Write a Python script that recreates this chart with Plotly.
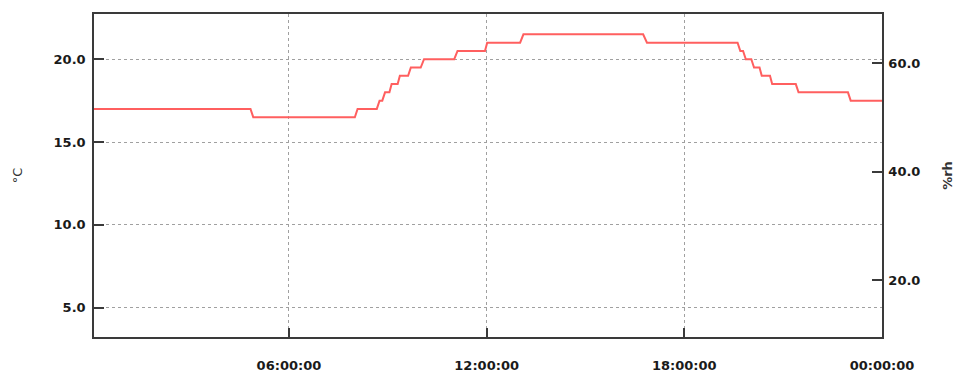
import plotly.graph_objects as go

# Temperature readings (step series) - time of day and value in °C
times = [
    "2023-01-01 00:05", "2023-01-01 04:50", "2023-01-01 04:55", "2023-01-01 08:00",
    "2023-01-01 08:05", "2023-01-01 08:40", "2023-01-01 08:45", "2023-01-01 08:50",
    "2023-01-01 08:55", "2023-01-01 09:03", "2023-01-01 09:07", "2023-01-01 09:18",
    "2023-01-01 09:22", "2023-01-01 09:37", "2023-01-01 09:42", "2023-01-01 10:00",
    "2023-01-01 10:06", "2023-01-01 11:01", "2023-01-01 11:07", "2023-01-01 11:57",
    "2023-01-01 12:01", "2023-01-01 13:01", "2023-01-01 13:07", "2023-01-01 16:45",
    "2023-01-01 16:52", "2023-01-01 19:37", "2023-01-01 19:42", "2023-01-01 19:47",
    "2023-01-01 19:52", "2023-01-01 20:02", "2023-01-01 20:07", "2023-01-01 20:17",
    "2023-01-01 20:21", "2023-01-01 20:36", "2023-01-01 20:40", "2023-01-01 21:23",
    "2023-01-01 21:28", "2023-01-01 22:58", "2023-01-01 23:03", "2023-01-02 00:00",
]
temps = [
    17.0, 17.0, 16.5, 16.5,
    17.0, 17.0, 17.5, 17.5,
    18.0, 18.0, 18.5, 18.5,
    19.0, 19.0, 19.5, 19.5,
    20.0, 20.0, 20.5, 20.5,
    21.0, 21.0, 21.5, 21.5,
    21.0, 21.0, 20.5, 20.5,
    20.0, 20.0, 19.5, 19.5,
    19.0, 19.0, 18.5, 18.5,
    18.0, 18.0, 17.5, 17.5,
]

x_tickvals = ["2023-01-01 06:00", "2023-01-01 12:00", "2023-01-01 18:00", "2023-01-02 00:00"]
x_ticktext = ["06:00:00", "12:00:00", "18:00:00", "00:00:00"]
y_tickvals = [5, 10, 15, 20]
y2_tickvals = [20, 40, 60]

tick_font = dict(family="DejaVu Sans", size=13, color="#1a1a1a", weight="bold")
axis_color = "#3a3a3a"
grid_color = "#a0a0a0"

fig = go.Figure()
fig.add_trace(go.Scatter(
    x=times, y=temps, mode="lines",
    line=dict(color="#ff5f5f", width=2),
    showlegend=False, hoverinfo="x+y",
))
# invisible trace to activate the right axis
fig.add_trace(go.Scatter(x=[times[0]], y=[None], yaxis="y2", showlegend=False, hoverinfo="skip"))

fig.update_layout(
    width=957, height=365,
    margin=dict(l=86, r=83, t=6, b=36, autoexpand=False),
    plot_bgcolor="white", paper_bgcolor="white",
    xaxis=dict(
        range=["2023-01-01 00:05", "2023-01-02 00:00"],
        tickmode="array", tickvals=x_tickvals, ticktext=x_ticktext,
        ticks="inside", ticklen=9, tickwidth=2, tickcolor=axis_color,
        showline=True, linecolor=axis_color, linewidth=1.5, mirror=True,
        showgrid=True, gridcolor=grid_color, griddash="dot", gridwidth=1,
        tickfont=tick_font, ticklabelstandoff=16, automargin=False,
        zeroline=False,
    ),
    yaxis=dict(
        range=[3.23, 22.73],
        tickmode="array", tickvals=y_tickvals, tickformat=".1f",
        ticks="inside", ticklen=10, tickwidth=2, tickcolor=axis_color,
        showline=True, linecolor=axis_color, linewidth=1.5, mirror=True,
        showgrid=True, gridcolor=grid_color, griddash="dot", gridwidth=1,
        tickfont=tick_font, ticklabelstandoff=4, automargin=False,
        title=dict(text="°C", font=dict(family="DejaVu Sans", size=13, color="#333333"), standoff=28),
        zeroline=False,
    ),
    yaxis2=dict(
        range=[9.6, 69.0], overlaying="y", side="right",
        tickmode="array", tickvals=y2_tickvals, tickformat=".1f",
        ticks="inside", ticklen=10, tickwidth=2, tickcolor=axis_color,
        showline=True, linecolor=axis_color, linewidth=1.5,
        showgrid=False, zeroline=False,
        tickfont=tick_font, ticklabelstandoff=2, automargin=False,
        title=dict(text="%rh", font=dict(family="DejaVu Sans", size=13, color="#333333", weight="bold"), standoff=23),
    ),
)

fig.write_html("out.html")
